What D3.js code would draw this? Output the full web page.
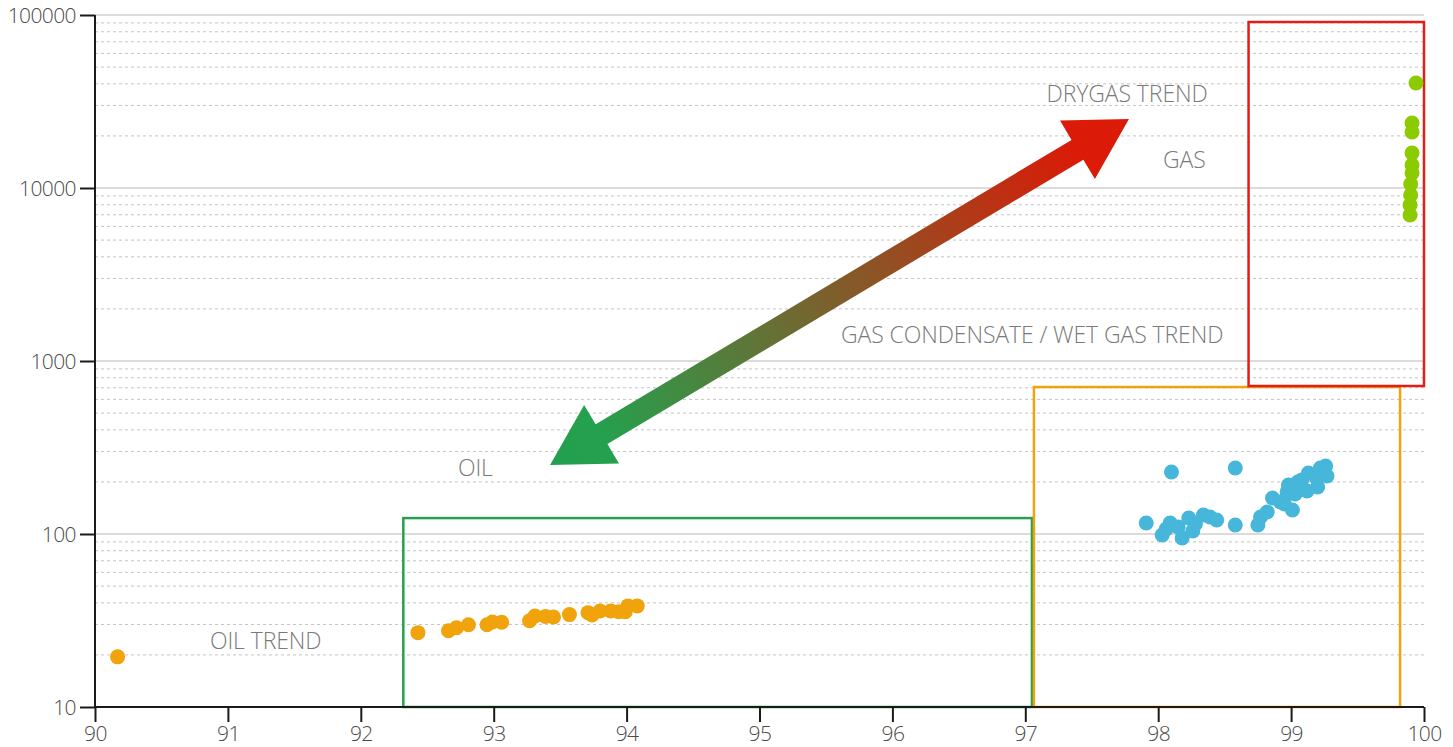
<!DOCTYPE html>
<html>
<head>
<meta charset="utf-8">
<script src="https://cdn.jsdelivr.net/npm/d3@7"></script>
<style>
  html, body { margin: 0; padding: 0; background: #fff; }
  svg { display: block; font-family: "Open Sans", "Segoe UI", sans-serif; }
</style>
</head>
<body>
<svg id="chart" width="1453" height="747"></svg>
<script>
// ---- data ----
const xTicks = [90, 91, 92, 93, 94, 95, 96, 97, 98, 99, 100];
const yTicks = [10, 100, 1000, 10000, 100000];

const oilX = [90.17, 92.43, 92.66, 92.72, 92.81, 92.95, 92.99, 93.06, 93.27, 93.31, 93.39, 93.45, 93.57, 93.71, 93.74, 93.80, 93.88, 93.94, 93.99, 94.01, 94.08];
const oilY = [19.5, 26.9, 27.6, 28.7, 29.9, 29.9, 31.0, 30.9, 31.5, 33.6, 33.4, 33.1, 34.2, 35.1, 34.0, 35.9, 35.9, 35.5, 35.5, 38.4, 38.4];

const wetX = [97.91, 98.03, 98.06, 98.09, 98.15, 98.18, 98.23, 98.26, 98.28, 98.34, 98.39, 98.44, 98.10, 98.58, 98.58, 98.75, 98.77, 98.82, 98.86, 98.92, 98.97, 98.95, 99.01, 98.98, 99.05, 99.08, 99.13, 99.12, 99.20, 99.19, 99.22, 99.26, 99.27, 99.03, 99.07];
const wetY = [115.8, 98.7, 106.9, 115.8, 109.8, 94.8, 123.7, 104.1, 114.2, 128.8, 125.4, 120.4, 228.2, 240.7, 112.7, 112.7, 125.4, 134.1, 161.5, 153.1, 174.9, 149.1, 137.6, 191.9, 199.7, 205.1, 225.2, 177.2, 187.0, 210.7, 240.7, 247.2, 216.4, 170.3, 184.5];

const gasX = [99.94, 99.91, 99.91, 99.91, 99.91, 99.91, 99.90, 99.90, 99.895, 99.895];
const gasY = [40450, 23750, 21060, 15930, 13580, 12210, 10550, 9110, 7970, 6980];

// region boxes (data units)
const boxNames = ["oil", "wet", "gas"];
const boxX0 = [92.32, 97.065, 98.68];
const boxX1 = [97.05, 99.82, 100];
const boxY0 = [10, 10, 717];
const boxY1 = [123.6, 707, 91100];

// annotation labels (data units)
const labelText = ["DRYGAS TREND", "GAS", "GAS CONDENSATE / WET GAS TREND", "OIL", "OIL TREND"];
const labelX = [97.16, 98.036, 95.613, 92.731, 90.865];
const labelY = [34950, 14510, 1413, 240.7, 24.07];

// trend arrow endpoints (data units): oil end -> dry gas end
const arrowX = [93.424, 97.78];
const arrowY = [250.5, 25060];

// ---- layout ----
const margin = { left: 95, top: 15, right: 29, bottom: 40 };
const W = 1453, H = 747;
const iw = W - margin.left - margin.right;
const ih = H - margin.top - margin.bottom;

const svg = d3.select("#chart");
const g = svg.append("g").attr("transform", `translate(${margin.left},${margin.top})`);

const x = d3.scaleLinear().domain([90, 100]).range([0, iw]);
const y = d3.scaleLog().domain([10, 100000]).range([ih, 0]);

// grid: minor dashed
const minor = [];
for (let d = 10; d < 100000; d *= 10) for (let k = 2; k <= 9; k++) minor.push(d * k);
g.append("g").selectAll("line").data(minor).join("line")
  .attr("x1", 0).attr("x2", iw)
  .attr("y1", d => y(d)).attr("y2", d => y(d))
  .attr("stroke", "#c4c4c4").attr("stroke-width", 1).attr("stroke-dasharray", "3,3");
// grid: major solid
g.append("g").selectAll("line").data(yTicks.slice(1)).join("line")
  .attr("x1", 0).attr("x2", iw)
  .attr("y1", d => y(d)).attr("y2", d => y(d))
  .attr("stroke", "#cfcfcf").attr("stroke-width", 1.5);

// boxes
const boxColor = { oil: "#27a04d", wet: "#f0a30a", gas: "#e31d1a" };
g.append("g").selectAll("rect").data(boxNames).join("rect")
  .attr("x", (d, i) => x(boxX0[i]))
  .attr("y", (d, i) => y(boxY1[i]))
  .attr("width", (d, i) => x(boxX1[i]) - x(boxX0[i]))
  .attr("height", (d, i) => y(boxY0[i]) - y(boxY1[i]))
  .attr("fill", "none")
  .attr("stroke", d => boxColor[d])
  .attr("stroke-width", 2.5);

// arrow
const A = [x(arrowX[0]), y(arrowY[0])];
const B = [x(arrowX[1]), y(arrowY[1])];
const len = Math.hypot(B[0] - A[0], B[1] - A[1]);
const u = [(B[0] - A[0]) / len, (B[1] - A[1]) / len];
const n = [-u[1], u[0]];
const hl = 60, hw = 68, sw = 23;
const P = (p, a, b) => [p[0] + u[0] * a + n[0] * b, p[1] + u[1] * a + n[1] * b];
const poly = [
  A, P(A, hl, hw / 2), P(A, hl, sw / 2), P(B, -hl, sw / 2), P(B, -hl, hw / 2),
  B, P(B, -hl, -hw / 2), P(B, -hl, -sw / 2), P(A, hl, -sw / 2), P(A, hl, -hw / 2)
];
const defs = svg.append("defs");
const grad = defs.append("linearGradient").attr("id", "arrowGrad")
  .attr("gradientUnits", "userSpaceOnUse")
  .attr("x1", A[0] + margin.left).attr("y1", A[1] + margin.top)
  .attr("x2", B[0] + margin.left).attr("y2", B[1] + margin.top);
grad.append("stop").attr("offset", 0).attr("stop-color", "#22a04f");
grad.append("stop").attr("offset", hl / len).attr("stop-color", "#25a04e");
grad.append("stop").attr("offset", 1 - hl / len).attr("stop-color", "#db1a07");
grad.append("stop").attr("offset", 1).attr("stop-color", "#dc1a08");
svg.append("path")
  .attr("d", d3.line()(poly.map(p => [p[0] + margin.left, p[1] + margin.top])) + "Z")
  .attr("fill", "url(#arrowGrad)");

// labels
g.append("g").selectAll("text").data(labelText).join("text")
  .attr("x", (d, i) => x(labelX[i]))
  .attr("y", (d, i) => y(labelY[i]))
  .attr("dy", "0.36em")
  .attr("fill", "#7a7a7a")
  .attr("font-size", 23)
  .attr("font-weight", 300)
  .attr("letter-spacing", "-0.1")
  .text(d => d);

// points
function dots(xs, ys, color) {
  g.append("g").selectAll("circle").data(xs).join("circle")
    .attr("cx", (d, i) => x(xs[i]))
    .attr("cy", (d, i) => y(ys[i]))
    .attr("r", 7.5)
    .attr("fill", color);
}
dots(oilX, oilY, "#f0a30a");
dots(wetX, wetY, "#46b6da");
dots(gasX, gasY, "#8ccb00");

// axes
const xAxis = g.append("g").attr("transform", `translate(0,${ih})`)
  .call(d3.axisBottom(x).tickValues(xTicks).tickFormat(d3.format("d")).tickSize(15).tickPadding(4));
const yAxis = g.append("g")
  .call(d3.axisLeft(y).tickValues(yTicks).tickFormat(d3.format("d")).tickSize(15).tickPadding(4));
[xAxis, yAxis].forEach(a => {
  a.select(".domain").attr("stroke", "#1a1a1a").attr("stroke-width", 2);
  a.selectAll(".tick line").attr("stroke", "#1a1a1a").attr("stroke-width", 2);
  a.selectAll(".tick text").attr("fill", "#4a4a4a").attr("font-size", 21)
    .attr("font-weight", 300).attr("font-family", "'Open Sans', sans-serif").attr("letter-spacing", "-0.6");
});
yAxis.selectAll(".tick text").attr("dy", "0.34em");
xAxis.select(".domain").attr("d", `M0,0H${iw}`);
yAxis.select(".domain").attr("d", `M0,${ih}V0`);
</script>
</body>
</html>
